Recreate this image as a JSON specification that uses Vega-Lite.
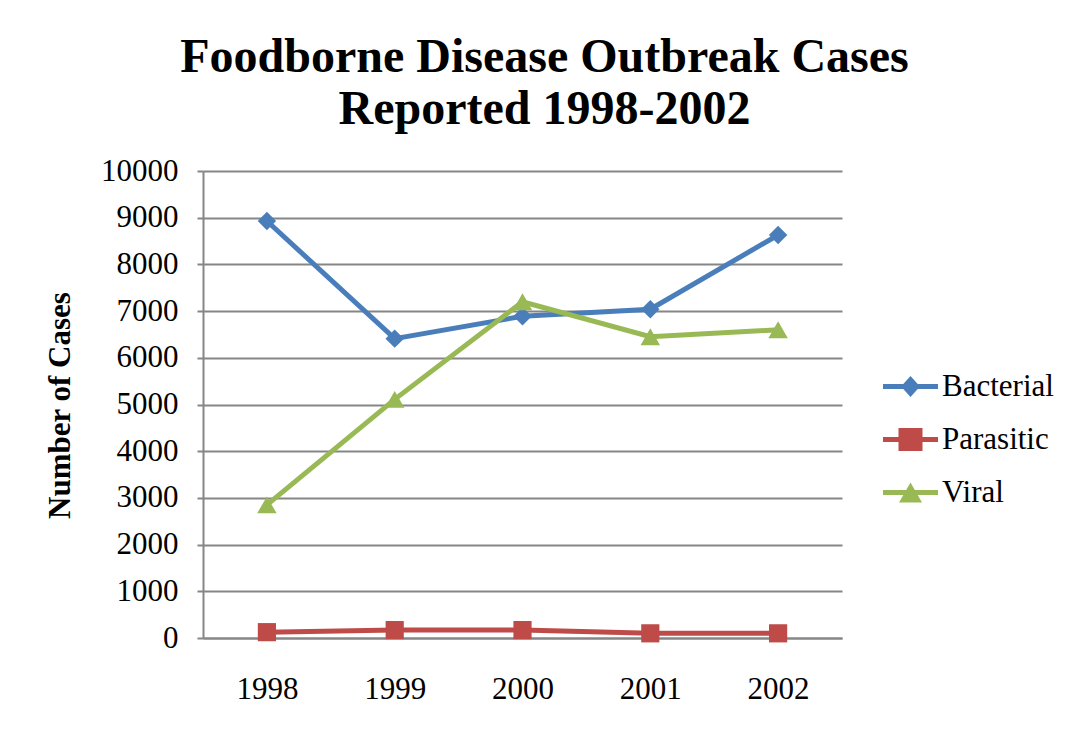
{
  "$schema": "https://vega.github.io/schema/vega-lite/v6.json",
  "width": 639,
  "height": 467,
  "autosize": {"type": "none"},
  "padding": {"left": 203, "top": 171, "right": 232, "bottom": 92},
  "background": "white",
  "config": {
    "font": "Liberation Serif",
    "view": {"stroke": null},
    "legend": {"labelFont": "Liberation Serif", "labelFontSize": 31, "labelColor": "black"}
  },
  "title": {
    "text": ["Foodborne Disease Outbreak Cases", "Reported 1998-2002"],
    "font": "Liberation Serif",
    "fontSize": 48,
    "fontWeight": "bold",
    "color": "black",
    "anchor": "middle",
    "frame": "group",
    "dx": 22,
    "lineHeight": 52,
    "offset": 21
  },
  "data": {
    "values": [
      {"year": "1998", "series": "Bacterial", "cases": 8930},
      {"year": "1999", "series": "Bacterial", "cases": 6410},
      {"year": "2000", "series": "Bacterial", "cases": 6890},
      {"year": "2001", "series": "Bacterial", "cases": 7040},
      {"year": "2002", "series": "Bacterial", "cases": 8630},
      {"year": "1998", "series": "Parasitic", "cases": 125},
      {"year": "1999", "series": "Parasitic", "cases": 170},
      {"year": "2000", "series": "Parasitic", "cases": 170},
      {"year": "2001", "series": "Parasitic", "cases": 100},
      {"year": "2002", "series": "Parasitic", "cases": 100},
      {"year": "1998", "series": "Viral", "cases": 2850},
      {"year": "1999", "series": "Viral", "cases": 5110},
      {"year": "2000", "series": "Viral", "cases": 7200},
      {"year": "2001", "series": "Viral", "cases": 6450},
      {"year": "2002", "series": "Viral", "cases": 6600}
    ]
  },
  "encoding": {
    "x": {
      "field": "year",
      "type": "ordinal",
      "scale": {"type": "point", "padding": 0.5},
      "axis": {
        "title": null,
        "labelAngle": 0,
        "labelFont": "Liberation Serif",
        "labelFontSize": 31,
        "labelColor": "black",
        "labelPadding": 36,
        "ticks": false,
        "domainColor": "#868686",
        "domainWidth": 2,
        "grid": false
      }
    },
    "y": {
      "field": "cases",
      "type": "quantitative",
      "scale": {"domain": [0, 10000], "nice": false},
      "axis": {
        "title": "Number of Cases",
        "titleFont": "Liberation Serif",
        "titleFontSize": 31,
        "titleFontWeight": "bold",
        "titleColor": "black",
        "titleX": -143,
        "titleY": 234,
        "titleAngle": -90,
        "titleAlign": "center",
        "titleBaseline": "middle",
        "values": [0, 1000, 2000, 3000, 4000, 5000, 6000, 7000, 8000, 9000, 10000],
        "format": "d",
        "labelFont": "Liberation Serif",
        "labelFontSize": 31,
        "labelColor": "black",
        "labelPadding": 19,
        "tickSize": 6,
        "tickColor": "#868686",
        "tickWidth": 2,
        "domainColor": "#868686",
        "domainWidth": 2,
        "grid": true,
        "gridColor": "#868686",
        "gridWidth": 2
      }
    },
    "color": {
      "field": "series",
      "type": "nominal",
      "scale": {
        "domain": ["Bacterial", "Parasitic", "Viral"],
        "range": ["#4A7EBB", "#BE4B48", "#98B954"]
      },
      "legend": {
        "title": null,
        "orient": "none",
        "legendX": 692,
        "legendY": 200,
        "labelFont": "Liberation Serif",
        "labelFontSize": 31,
        "labelColor": "black",
        "symbolSize": 400,
        "labelOffset": 16,
        "rowPadding": 21,
        "encode": {
          "symbols": {
            "update": {
              "shape": {"signal": "datum.value === 'Bacterial' ? 'M-2.75,-0.25H2.75V0.25H-2.75Z M0,-1.05L0.95,0L0,1.05L-0.95,0Z' : datum.value === 'Parasitic' ? 'M-2.75,-0.25H2.75V0.25H-2.75Z M-1.2,-1.15H1.2V1.15H-1.2Z' : 'M-2.75,-0.25H2.75V0.25H-2.75Z M0,-1L1.15,1H-1.15Z'"},
              "fill": {"signal": "scale('color', datum.value)"},
              "stroke": {"value": "transparent"},
              "strokeWidth": {"value": 0},
              "opacity": {"value": 1},
              "size": {"value": 400}
            }
          }
        }
      }
    }
  },
  "layer": [
    {
      "mark": {"type": "line", "strokeWidth": 5}
    },
    {
      "transform": [{"filter": "datum.series === 'Bacterial'"}],
      "mark": {"type": "point", "shape": "diamond", "filled": true, "opacity": 1, "size": 340}
    },
    {
      "transform": [{"filter": "datum.series === 'Parasitic'"}],
      "mark": {"type": "point", "shape": "square", "filled": true, "opacity": 1, "size": 330}
    },
    {
      "transform": [{"filter": "datum.series === 'Viral'"}],
      "mark": {"type": "point", "shape": "triangle-up", "filled": true, "opacity": 1, "size": 380}
    }
  ]
}
